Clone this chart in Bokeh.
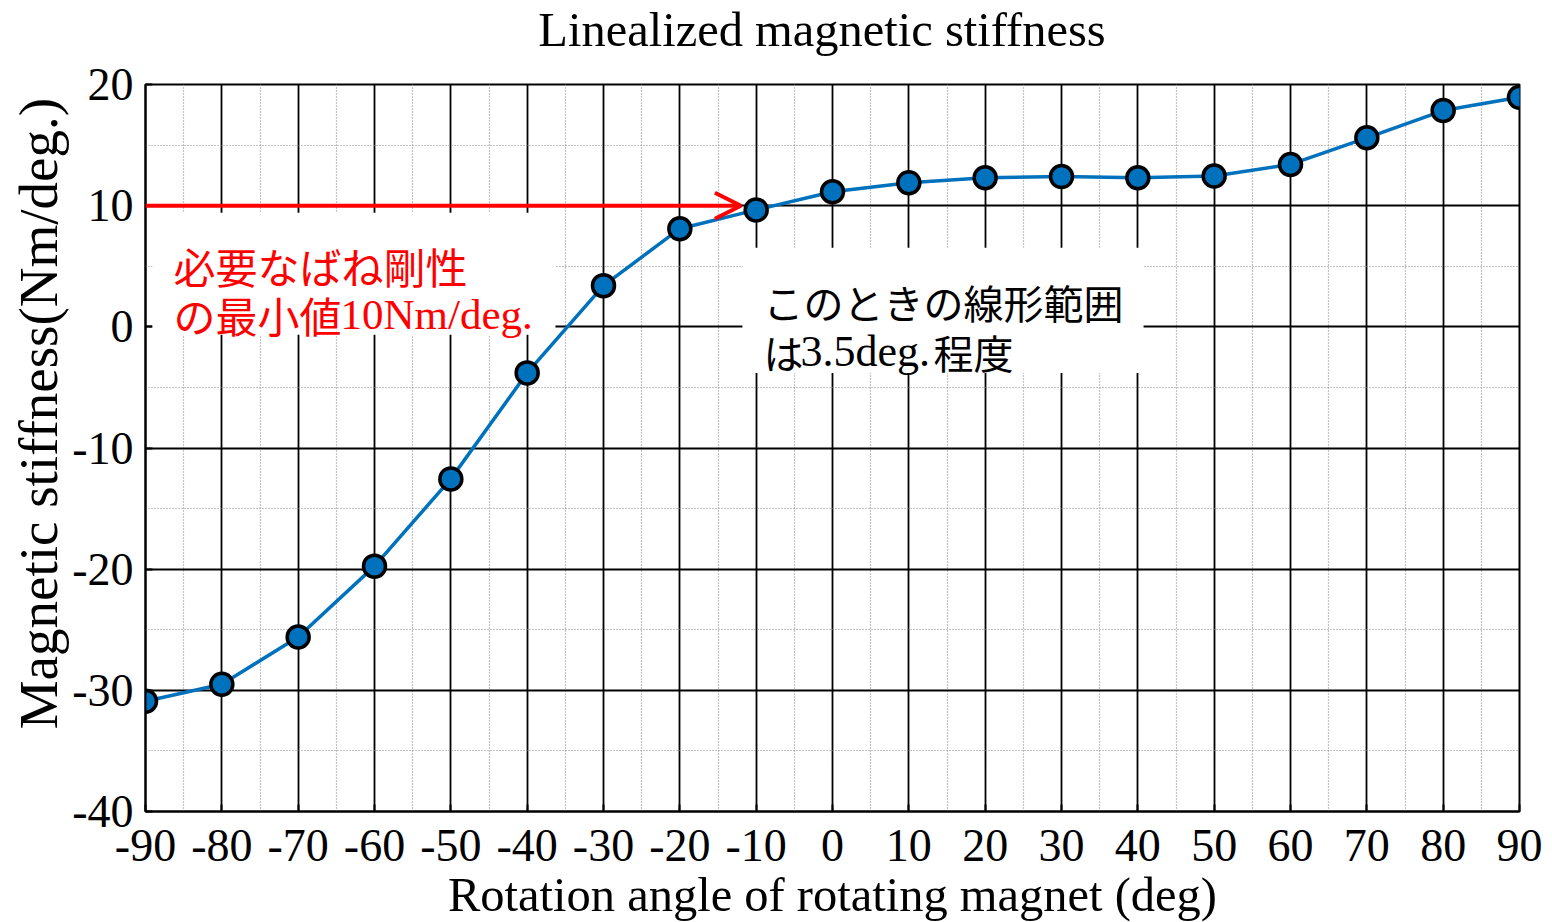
from bokeh.plotting import figure
from bokeh.layouts import column
from bokeh.models import (FixedTicker, Arrow, OpenHead, BoxAnnotation, Label, Range1d, Div)
from bokeh.embed import file_html
from bokeh.resources import INLINE

angles = [-90, -80, -70, -60, -50, -40, -30, -20, -10, 0, 10, 20, 30, 40, 50, 60, 70, 80, 90]
stiffness = [-30.9, -29.5, -25.6, -19.75, -12.55, -3.8, 3.4, 8.1, 9.65, 11.15,
             11.9, 12.3, 12.4, 12.3, 12.45, 13.4, 15.6, 17.85, 18.95]
x_ticks = list(range(-90, 91, 10))
x_minor = list(range(-85, 90, 10))
y_ticks = list(range(-40, 21, 10))
y_minor = list(range(-35, 20, 10))
required = 10

TITLE = "Linealized magnetic stiffness"
XLABEL = "Rotation angle of rotating magnet (deg)"
YLABEL = "Magnetic stiffness(Nm/deg.)"

SERIF = "Liberation Serif"
CJK = "Noto Sans CJK JP"

title_div = Div(
    text=('<div style="font-family:\'Liberation Serif\';font-size:48.5px;line-height:60px;'
          'text-align:center;width:1354px;margin-left:145px;color:black;white-space:nowrap;">'
          + TITLE + '</div>'),
    width=1552, height=60, margin=0)

p = figure(frame_width=1374, frame_height=727, output_backend="svg", toolbar_location=None,
           x_range=Range1d(-90, 90), y_range=Range1d(-40, 20),
           min_border_left=145, min_border_right=33, min_border_top=24, min_border_bottom=111)

p.xaxis.ticker = FixedTicker(ticks=x_ticks, minor_ticks=x_minor)
p.yaxis.ticker = FixedTicker(ticks=y_ticks, minor_ticks=y_minor)
p.xaxis.major_label_overrides = {t: str(t) for t in x_ticks}
p.yaxis.major_label_overrides = {t: str(t) for t in y_ticks}
p.xaxis.axis_label = XLABEL
p.yaxis.axis_label = "\u00a0\u00a0\u00a0\u00a0\u00a0" + YLABEL
for ax in (p.xaxis, p.yaxis):
    ax.axis_label_text_font = SERIF
    ax.axis_label_text_font_style = "normal"
    ax.axis_label_text_color = "black"
    ax.major_label_text_font = SERIF
    ax.major_label_text_font_size = "46px"
    ax.major_label_text_color = "black"
    ax.axis_line_color = "black"
    ax.axis_line_width = 2
    ax.major_tick_in = 7
    ax.major_tick_out = 0
    ax.major_tick_line_color = "black"
    ax.major_tick_line_width = 2
    ax.minor_tick_line_color = None
p.xaxis.axis_label_text_font_size = "48.5px"
p.yaxis.axis_label_text_font_size = "55px"
p.xaxis.major_label_standoff = 14
p.yaxis.major_label_standoff = 8
p.xaxis.axis_label_standoff = 4
p.yaxis.axis_label_standoff = 0

for g in (p.xgrid, p.ygrid):
    g.grid_line_color = "black"
    g.grid_line_width = 1.8
    g.grid_line_alpha = 1
    g.minor_grid_line_color = "#8a8a8a"
    g.minor_grid_line_width = 1.2
    g.minor_grid_line_dash = "1 2"
p.outline_line_color = "black"
p.outline_line_width = 2
p.background_fill_color = "white"
p.border_fill_color = "white"

p.line(angles, stiffness, line_color="#0072BD", line_width=3.5)
p.scatter(angles, stiffness, size=22, fill_color="#0072BD", line_color="black", line_width=3.5)

# white boxes behind annotations
p.add_layout(BoxAnnotation(left=-89.1, right=-36.3, top=9.42, bottom=-0.66,
                           fill_color="white", fill_alpha=1, line_color=None))
p.add_layout(BoxAnnotation(left=-11.8, right=40.75, top=6.53, bottom=-3.8,
                           fill_color="white", fill_alpha=1, line_color=None))

p.add_layout(Arrow(end=OpenHead(line_color="red", line_width=4, size=26),
                   x_start=-90, y_start=required, x_end=-12.0, y_end=required,
                   line_color="red", line_width=4))

def lab(x, y, t, font, size, color):
    p.add_layout(Label(x=x, y=y, text=t, text_font=font, text_font_size=size,
                       text_color=color, text_baseline="alphabetic", text_align="left"))

lab(-86.33, 5.04, "必要なばね剛性", CJK, "42px", "red")
lab(-86.33, 0.99, "の最小値", CJK, "42px", "red")
lab(-64.45, 0.99, "10Nm/deg.", SERIF, "43px", "red")
lab(-9.04, 2.07, "このときの線形範囲", CJK, "40px", "black")
lab(-9.04, -2.07, "は", CJK, "40px", "black")
lab(-4.19, -2.07, "3.5deg.", SERIF, "44px", "black")
lab(13.24, -2.07, "程度", CJK, "40px", "black")

layout = column(title_div, p, spacing=0)
open("out.html", "w").write(file_html(layout, INLINE))
